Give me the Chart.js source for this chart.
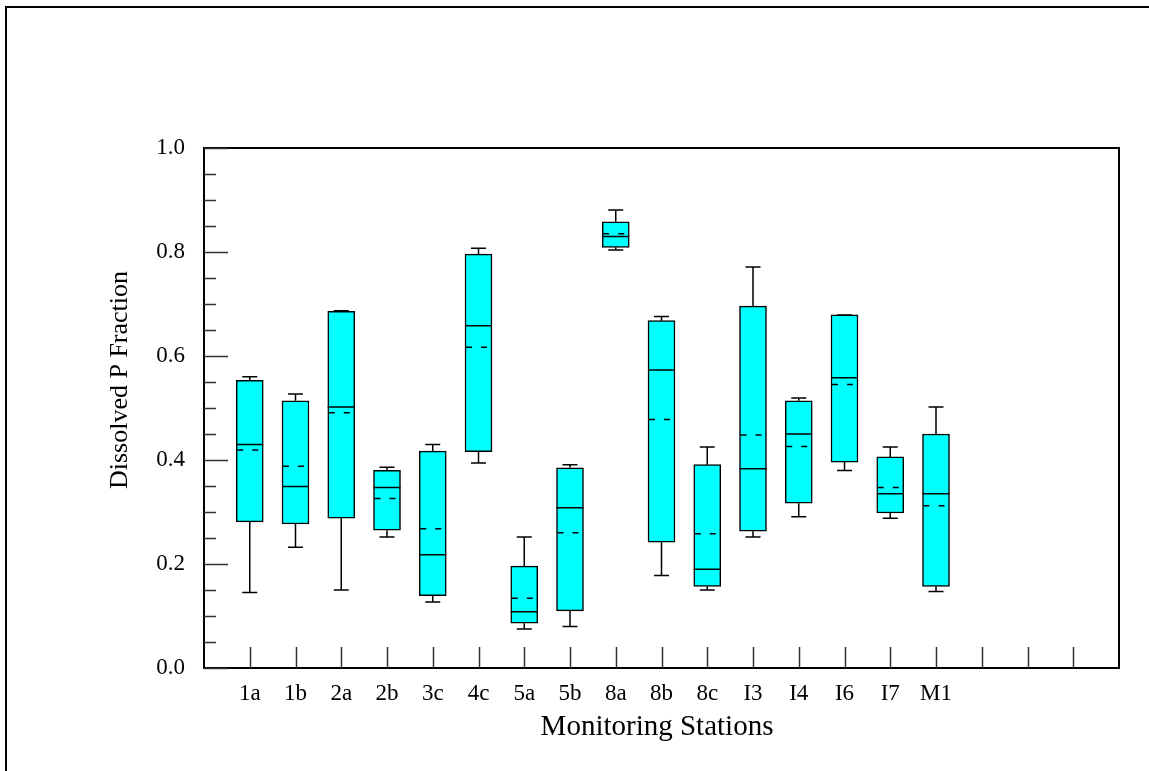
<!DOCTYPE html>
<html>
<head>
<meta charset="utf-8">
<script src="https://cdn.jsdelivr.net/npm/chart.js@4/dist/chart.umd.min.js"></script>
<style>
  body { margin: 0; background: #fff; }
  #wrap { width: 1149px; height: 771px; position: relative; }
</style>
</head>
<body>
<div id="wrap"><canvas id="boxChart"></canvas></div>
<script>
// box plot values
const stations = ['1a', '1b', '2a', '2b', '3c', '4c', '5a', '5b', '8a', '8b', '8c', 'I3', 'I4', 'I6', 'I7', 'M1'];
const whiskerLow = [0.145, 0.232, 0.150, 0.252, 0.127, 0.394, 0.075, 0.080, 0.804, 0.178, 0.150, 0.252, 0.291, 0.380, 0.288, 0.147];
const q1 = [0.281, 0.277, 0.288, 0.265, 0.139, 0.416, 0.086, 0.110, 0.809, 0.242, 0.157, 0.263, 0.317, 0.396, 0.298, 0.157];
const median = [0.430, 0.349, 0.502, 0.347, 0.218, 0.658, 0.108, 0.308, 0.830, 0.573, 0.190, 0.383, 0.450, 0.558, 0.335, 0.335];
const mean = [0.419, 0.388, 0.491, 0.326, 0.268, 0.617, 0.134, 0.260, 0.835, 0.478, 0.258, 0.448, 0.426, 0.545, 0.347, 0.312];
const q3 = [0.553, 0.514, 0.686, 0.380, 0.417, 0.796, 0.196, 0.385, 0.858, 0.668, 0.391, 0.696, 0.514, 0.679, 0.406, 0.450];
const whiskerHigh = [0.560, 0.527, 0.687, 0.386, 0.430, 0.807, 0.252, 0.391, 0.881, 0.676, 0.425, 0.771, 0.519, 0.679, 0.425, 0.502];

const yTicks = [0, 0.2, 0.4, 0.6, 0.8, 1.0];
const slotCount = 20; // 19 tick slots, last three empty
const xTitle = 'Monitoring Stations';
const yTitle = 'Dissolved P Fraction';

const serif = '"Liberation Serif", "Times New Roman", serif';

const boxExtras = {
    id: 'boxExtras',
    beforeDraw(chart) {
        const ctx = chart.ctx;
        ctx.save();
        ctx.fillStyle = '#fff';
        ctx.fillRect(0, 0, chart.width, chart.height);
        // outer frame, only left and top visible
        ctx.fillStyle = '#000';
        ctx.fillRect(5, 6, 2, chart.height - 6);
        ctx.fillRect(5, 6, chart.width - 5, 2);
        ctx.restore();
    },
    afterDatasetsDraw(chart) {
        const ctx = chart.ctx;
        const xs = chart.scales.x;
        const ys = chart.scales.y;
        const half = 13.5;
        const cap = 7.5;
        ctx.save();
        ctx.strokeStyle = '#000';
        ctx.lineWidth = 1.5;
        stations.forEach((s, i) => {
            const x = xs.getPixelForValue(i + 1);
            const yLo = ys.getPixelForValue(whiskerLow[i]);
            const yQ1 = ys.getPixelForValue(q1[i]);
            const yQ3 = ys.getPixelForValue(q3[i]);
            const yHi = ys.getPixelForValue(whiskerHigh[i]);
            ctx.setLineDash([]);
            ctx.beginPath();
            ctx.moveTo(x, yQ3); ctx.lineTo(x, yHi);
            ctx.moveTo(x - cap, yHi); ctx.lineTo(x + cap, yHi);
            ctx.moveTo(x, yQ1); ctx.lineTo(x, yLo);
            ctx.moveTo(x - cap, yLo); ctx.lineTo(x + cap, yLo);
            const yMed = ys.getPixelForValue(median[i]);
            ctx.moveTo(x - half, yMed); ctx.lineTo(x + half, yMed);
            ctx.stroke();
            const yMean = ys.getPixelForValue(mean[i]);
            ctx.setLineDash([6, 9]);
            ctx.beginPath();
            ctx.moveTo(x - half + 1, yMean); ctx.lineTo(x + half - 4, yMean);
            ctx.stroke();
        });
        ctx.restore();
    },
    afterDraw(chart) {
        const ctx = chart.ctx;
        const area = chart.chartArea;
        const xs = chart.scales.x;
        const ys = chart.scales.y;
        ctx.save();
        ctx.strokeStyle = '#000';
        // plot frame
        ctx.lineWidth = 2;
        ctx.strokeRect(area.left, area.top, area.right - area.left, area.bottom - area.top);
        // inward ticks
        ctx.lineWidth = 1.5;
        ctx.strokeStyle = '#333';
        ctx.beginPath();
        for (let k = 0; k <= 20; k++) {
            const v = k * 0.05;
            const y = Math.round(ys.getPixelForValue(v)) + 0.5;
            const len = k % 4 === 0 ? 24 : 12;
            ctx.moveTo(area.left, y); ctx.lineTo(area.left + len, y);
        }
        for (let k = 1; k < slotCount; k++) {
            const x = Math.round(xs.getPixelForValue(k)) + 0.5;
            ctx.moveTo(x, area.bottom); ctx.lineTo(x, area.bottom - 21);
        }
        ctx.stroke();
        // axis titles
        ctx.fillStyle = '#000';
        ctx.textAlign = 'center';
        ctx.textBaseline = 'middle';
        ctx.font = '29px ' + serif;
        ctx.fillText(xTitle, 657, 727);
        ctx.font = '26px ' + serif;
        ctx.translate(120, 380);
        ctx.rotate(-Math.PI / 2);
        ctx.fillText(yTitle, 0, 0);
        ctx.restore();
    }
};

const drawBoxChart = () => {
    const ctx = document.getElementById('boxChart').getContext('2d');
    new Chart(ctx, {
        type: 'bar',
        data: {
            datasets: [{
                data: stations.map((s, i) => ({ x: i + 1, y: [q1[i], q3[i]] })),
                backgroundColor: '#00ffff',
                borderColor: '#000',
                borderWidth: 1.5,
                borderSkipped: false,
                barThickness: 27
            }]
        },
        options: {
            responsive: true,
            maintainAspectRatio: false,
            animation: false,
            layout: { padding: { left: 0, top: 148, right: 30, bottom: 0 } },
            plugins: {
                legend: { display: false },
                tooltip: { enabled: false }
            },
            scales: {
                x: {
                    type: 'linear',
                    offset: false,
                    min: 0,
                    max: slotCount,
                    grid: { display: false, drawTicks: false },
                    border: { display: false },
                    afterFit: (scale) => { scale.height = 103; },
                    ticks: {
                        stepSize: 1,
                        autoSkip: false,
                        maxRotation: 0,
                        padding: 12,
                        color: '#000',
                        font: { family: serif, size: 23 },
                        callback: (v) => stations[v - 1] || ''
                    }
                },
                y: {
                    min: 0,
                    max: 1,
                    grid: { display: false, drawTicks: false },
                    border: { display: false },
                    afterFit: (scale) => { scale.width = 204; },
                    afterBuildTicks: (scale) => { scale.ticks = yTicks.map(v => ({ value: v })); },
                    ticks: {
                        padding: 19,
                        color: '#000',
                        font: { family: serif, size: 23 },
                        callback: (v) => v.toFixed(1)
                    }
                }
            }
        },
        plugins: [boxExtras]
    });
};

drawBoxChart();
</script>
</body>
</html>
